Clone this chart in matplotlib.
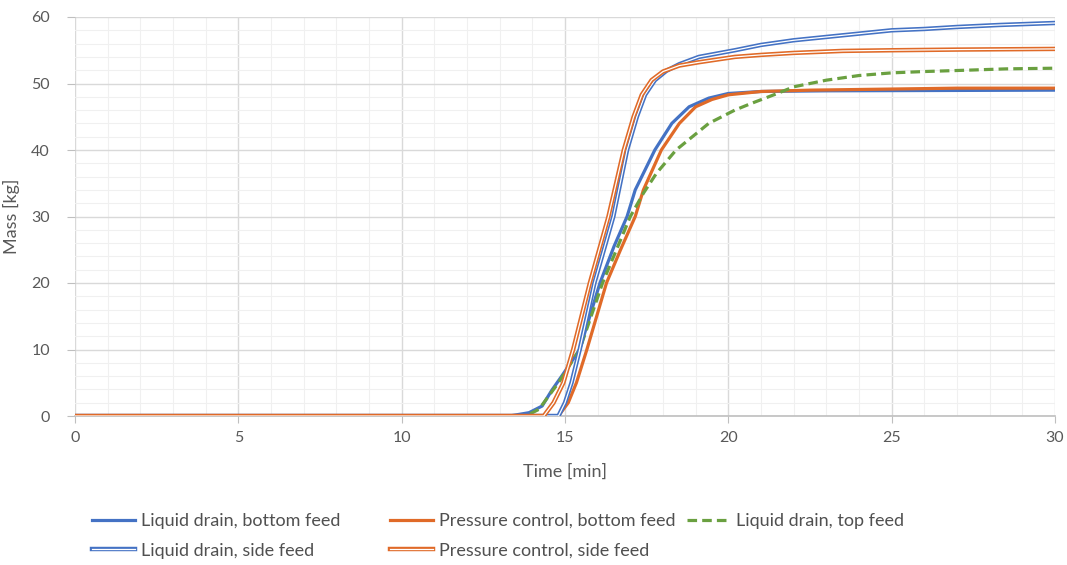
import numpy as np
import matplotlib.pyplot as plt
import matplotlib.patheffects as pe
from matplotlib.ticker import MultipleLocator

plt.rcParams['font.family'] = ['Lato', 'DejaVu Sans']

# Liquid drain, bottom feed
t_ld_bottom = [0, 13.3, 13.9, 14.3, 14.6, 14.9, 15.45, 16.07, 16.5, 16.9, 17.15, 17.75, 18.27,
               18.8, 19.4, 20.0, 21.0, 23.0, 30]
m_ld_bottom = [0, 0, 0.5, 1.5, 3.9, 6.0, 10, 20, 25.5, 30, 34, 40, 44,
               46.5, 47.8, 48.5, 48.8, 48.9, 49.0]

# Pressure control, bottom feed
t_pc_bottom = [0, 14.8, 15.1, 15.35, 15.67, 16.27, 16.7, 17.15, 17.4, 17.95, 18.5, 19.0, 19.5,
               20.0, 21.0, 22.5, 27.0, 30]
m_pc_bottom = [0, 0, 2.0, 5.0, 10, 20, 25, 30, 34, 40, 44, 46.5, 47.6,
               48.3, 48.8, 49.0, 49.3, 49.3]

# Liquid drain, top feed
t_ld_top = [0, 13.8, 14.2, 14.5, 14.8, 15.45, 16.15, 17.0, 17.4, 17.8, 18.4, 18.9, 19.4, 20.2,
            20.7, 21.5, 22.0, 23.0, 24.0, 25.0, 26.0, 27.3, 28.5, 30]
m_ld_top = [0, 0, 1.0, 3.0, 5.0, 10, 20, 30, 33.5, 36.5, 40, 42, 44, 46,
            47, 48.5, 49.5, 50.5, 51.2, 51.6, 51.8, 52.0, 52.2, 52.3]

# Liquid drain, side feed
t_ld_side = [0, 14.8, 15.0, 15.2, 15.45, 15.9, 16.48, 16.9, 17.2, 17.45, 17.75, 18.1, 18.5, 19.1,
             20.2, 21.0, 22.0, 23.0, 24.0, 25.0, 26.0, 27.0, 28.3, 30]
m_ld_side = [0, 0, 2, 5, 10, 20, 30, 40, 45, 48.3, 50.5, 51.9, 52.9, 54,
             55, 55.8, 56.5, 57.0, 57.5, 58, 58.2, 58.5, 58.8, 59.1]

# Pressure control, side feed
t_pc_side = [0, 14.35, 14.65, 14.95, 15.25, 15.76, 16.33, 16.8, 17.1, 17.35, 17.65, 18.0, 18.5,
             19.1, 20.2, 21.0, 22.0, 23.5, 25.0, 27.0, 30]
m_pc_side = [0, 0, 2, 5, 10, 20, 30, 40, 45, 48.3, 50.5, 51.8, 52.7,
             53.2, 54, 54.3, 54.6, 54.9, 55.0, 55.1, 55.2]

blue = '#4472C4'
orange = '#E06A28'
green = '#6AA040'

fig = plt.figure(figsize=(10.67, 5.65), dpi=100)
ax = fig.add_axes([75 / 1067, (565 - 416) / 565, 980 / 1067, 399 / 565])

l1, = ax.plot(t_ld_bottom, m_ld_bottom, color=blue, lw=2.3, label='Liquid drain, bottom feed', zorder=3)
l2, = ax.plot(t_pc_bottom, m_pc_bottom, color=orange, lw=2.3, label='Pressure control, bottom feed', zorder=3)
l3, = ax.plot(t_ld_top, m_ld_top, color=green, lw=2.3, ls=(0, (3, 1.6)), label='Liquid drain, top feed', zorder=3)

# double (compound) lines for the side feed cases
l4, = ax.plot(t_ld_side, m_ld_side, color='white', lw=0.9, label='Liquid drain, side feed', zorder=4,
              path_effects=[pe.Stroke(linewidth=3.2, foreground=blue), pe.Normal()])
l5, = ax.plot(t_pc_side, m_pc_side, color='white', lw=0.9, label='Pressure control, side feed', zorder=4,
              path_effects=[pe.Stroke(linewidth=3.2, foreground=orange), pe.Normal()])

ax.set_xlim(0, 30)
ax.set_ylim(0, 60)
ax.xaxis.set_major_locator(MultipleLocator(5))
ax.xaxis.set_minor_locator(MultipleLocator(1))
ax.yaxis.set_major_locator(MultipleLocator(10))
ax.yaxis.set_minor_locator(MultipleLocator(2))
ax.grid(which='major', color='#d9d9d9', lw=1.0)
ax.grid(which='minor', color='#f0f0f0', lw=0.8)
ax.set_axisbelow(True)

for s in ['top', 'right', 'left']:
    ax.spines[s].set_visible(False)
ax.spines['bottom'].set_color('#bfbfbf')
ax.spines['bottom'].set_linewidth(1.2)

ax.tick_params(which='minor', length=0)
ax.tick_params(axis='x', which='major', length=5, color='#bfbfbf', labelsize=11.5, labelcolor='#595959', pad=6)
ax.tick_params(axis='y', which='major', length=6, color='#bfbfbf', labelsize=11.5, labelcolor='#595959', pad=12)

ax.set_xlabel('Time [min]', fontsize=13, color='#595959', labelpad=13)
ax.set_ylabel('Mass [kg]', fontsize=13, color='#595959', labelpad=8)

# Excel-style legend: three equally spaced columns below the plot
legend_cols = [([l1, l4], 92), ([l2, l5], 390), ([l3], 687)]
for handles, x0 in legend_cols:
    fig.legend(handles=handles, loc='upper left', bbox_to_anchor=(x0 / 1067, 1 - 513 / 565),
               frameon=False, fontsize=13, labelcolor='#505050', handlelength=2.4, handletextpad=0.3,
               borderpad=0, borderaxespad=0, labelspacing=0.75)

fig.savefig('out.png', dpi=100)
